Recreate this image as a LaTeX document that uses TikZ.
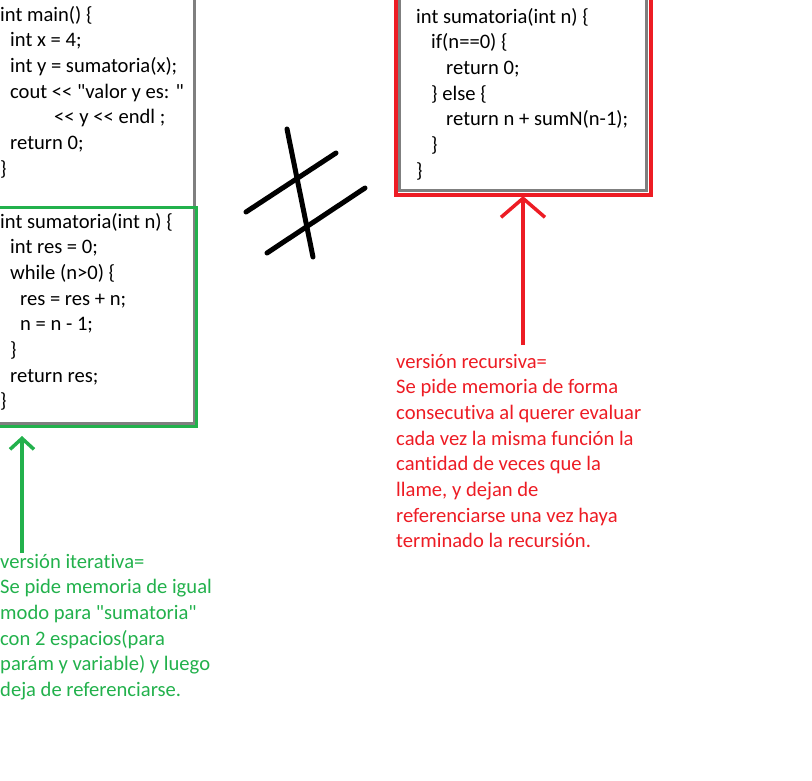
\documentclass[tikz,border=0pt]{standalone}
\usepackage{fontspec}
\setmainfont{Carlito}[Ligatures={TeXOff,CommonOff}]
\usetikzlibrary{arrows.meta}
\definecolor{paintgreen}{RGB}{34,177,76}
\definecolor{paintred}{RGB}{237,28,36}
\definecolor{paintgray}{RGB}{127,127,127}
\newcommand{\ind}[1]{\hspace*{#1pt}}
\begin{document}
\begin{tikzpicture}[x=1pt, y=-1pt,
    code/.style={anchor=base west, inner sep=0pt, align=left, font=\fontsize{20.6}{25.7}\selectfont},
    frame/.style={line width=3.5pt},
    hashline/.style={line width=5pt, line cap=round},
    itarrow/.style={paintgreen, line width=3.5pt, -{Straight Barb[length=11pt, width=24pt]}},
    recarrow/.style={paintred, line width=3.5pt, -{Straight Barb[length=19pt, width=44pt]}}]
    \useasboundingbox (0,0) rectangle (812,780);

    % boxes
    \draw[frame, paintgray] (-10,-10) -- (194.5,-10) -- (194.5,423.5) -- (-10,423.5);
    \draw[frame, paintgreen, line width=3pt] (-10,207.5) rectangle (196.5,426.5);
    \draw[frame, paintgray, line width=3pt] (399,-10) -- (399,190) -- (646.5,190) -- (646.5,-10);
    \draw[frame, paintred, line width=4pt] (396,-10) -- (396,194.5) -- (650.5,194.5) -- (650.5,-10);

    % code (node sits on the baseline of its last line)
    \node[code] (main) at (0,175.2) {int main() \{\\
      \ind{10}int x = 4;\\
      \ind{10}int y = sumatoria(x);\\
      \ind{10}cout << "valor y es: "\\
      \ind{54}<< y << endl ;\\
      \ind{10}return 0;\\
      \}};
    \node[code] (iter) at (0,407.9) {int sumatoria(int n) \{\\
      \ind{10}int res = 0;\\
      \ind{10}while (n>0) \{\\
      \ind{20}res = res + n;\\
      \ind{20}n = n - 1;\\
      \ind{10}\}\\
      \ind{10}return res;\\
      \}};
    \node[code] (rec) at (416,177.2) {int sumatoria(int n) \{\\
      \ind{15}if(n==0) \{\\
      \ind{30}return 0;\\
      \ind{15}\} else \{\\
      \ind{30}return n + sumN(n-1);\\
      \ind{15}\}\\
      \}};

    % not equal
    \draw[hashline] (287,129) -- (313,257);
    \draw[hashline] (246,212) -- (336,153);
    \draw[hashline] (267,253) -- (365,188);

    % notes
    \node[code, text=paintgreen] (itercap) at (0,696.5) {versión iterativa=\\
      Se pide memoria de igual\\
      modo para "sumatoria"\\
      con 2 espacios(para\\
      parám y variable) y luego\\
      deja de referenciarse.};
    \node[code, text=paintred] (reccap) at (396,547.9) {versión recursiva=\\
      Se pide memoria de forma\\
      consecutiva al querer evaluar\\
      cada vez la misma función la\\
      cantidad de veces que la\\
      llame, y dejan de\\
      referenciarse una vez haya\\
      terminado la recursión.};

    \coordinate (itertail) at (22,553);
    \coordinate (itertip) at (22,436);
    \coordinate (rectail) at (523,345);
    \coordinate (rectip) at (523,196);
    \draw[itarrow] (itertail) -- (itertip);
    \draw[recarrow] (rectail) -- (rectip);
\end{tikzpicture}
\end{document}
